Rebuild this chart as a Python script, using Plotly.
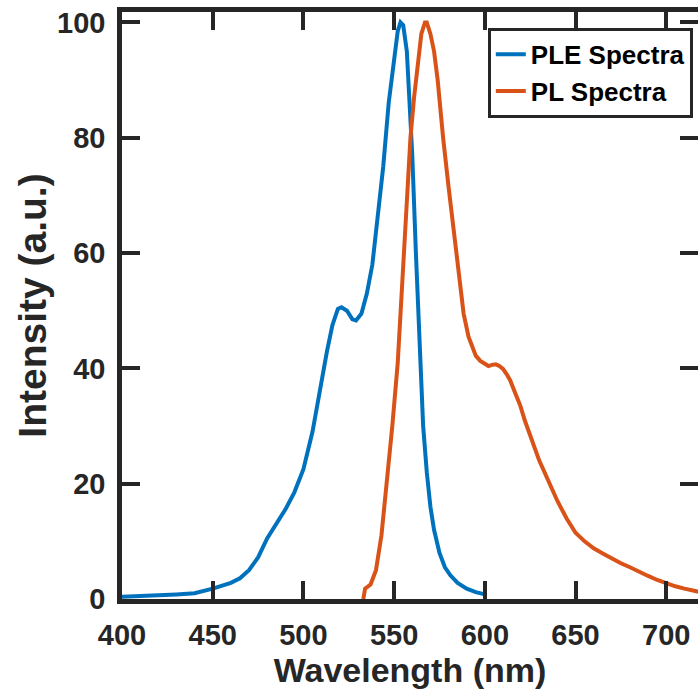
import plotly.graph_objects as go

ple_nm = [400, 410, 420, 430, 440, 450, 460, 465, 470, 475, 480, 485, 490, 495, 500,
          505, 510, 513, 516, 519, 521, 524, 527, 529, 532, 535, 538, 541, 544, 547,
          550, 552, 553.5, 555, 557, 559, 560, 562, 564, 566, 568, 570, 572, 575, 578,
          581, 585, 590, 595, 598.5, 600]
ple_val = [0.4, 0.5, 0.65, 0.8, 1.0, 1.8, 2.8, 3.6, 5.0, 7.2, 10.5, 13.0, 15.5, 18.5, 22.5,
           29.0, 38.0, 43.0, 47.5, 50.3, 50.6, 50.0, 48.5, 48.3, 49.5, 53.0, 58.0, 66.0, 75.0, 86.0,
           94.0, 98.5, 100.0, 99.5, 95.0, 84.0, 77.0, 60.0, 43.0, 30.0, 22.0, 16.0, 12.0, 8.0, 5.5,
           4.1, 2.8, 1.8, 1.2, 0.95, 0.8]

pl_nm = [533, 534, 537, 540, 543, 546, 549, 552, 555, 557, 559, 561, 563, 565, 567, 568,
         570, 572, 574, 575, 577, 580, 583, 586, 588.3, 591, 593, 595, 597.5, 600, 602, 604,
         606, 608, 610, 612, 614, 617, 619.6, 622, 625, 630, 635, 640, 645, 650, 655, 660,
         665, 670, 675, 680, 685, 690, 695, 700, 705, 710, 715, 720]
pl_val = [0.0, 1.8, 2.5, 5.0, 11.0, 20.0, 30.0, 41.0, 58.0, 70.0, 80.0, 87.0, 93.0, 98.0, 100.0, 100.0,
          98.0, 95.0, 90.0, 86.6, 80.0, 71.5, 63.0, 55.0, 49.5, 45.5, 43.6, 42.2, 41.3, 40.7, 40.4, 40.6,
          40.7, 40.4, 39.9, 39.0, 37.9, 35.5, 33.5, 31.0, 28.3, 24.0, 20.5, 17.0, 14.0, 11.5, 10.0, 8.8,
          7.9, 7.0, 6.2, 5.5, 4.7, 4.0, 3.3, 2.7, 2.2, 1.8, 1.4, 1.1]

x_ticks = [400, 450, 500, 550, 600, 650, 700]
y_ticks = [0, 20, 40, 60, 80, 100]

AX = "#262626"
FONT = "Liberation Sans"

fig = go.Figure()
fig.add_trace(go.Scatter(x=ple_nm, y=ple_val, mode="lines", name="PLE Spectra",
                         line=dict(color="#0072BD", width=4)))
fig.add_trace(go.Scatter(x=pl_nm, y=pl_val, mode="lines", name="PL Spectra",
                         line=dict(color="#D95319", width=4)))
fig.add_trace(go.Scatter(x=[], y=[], yaxis="y2", showlegend=False, hoverinfo="skip"))

fig.update_layout(
    width=698, height=690,
    margin=dict(l=122, r=0, t=12, b=91),
    paper_bgcolor="white", plot_bgcolor="white",
    font=dict(family=FONT, weight="bold", color=AX, size=26),
    showlegend=True,
    legend=dict(x=0.991, y=0.973, xanchor="right", yanchor="top",
                bgcolor="white", bordercolor=AX, borderwidth=3,
                font=dict(family=FONT, weight="bold", size=26, color="black"),
                tracegroupgap=0),
    xaxis=dict(range=[400, 717.5], tickvals=x_ticks, ticktext=[str(v) for v in x_ticks],
               ticks="inside", ticklen=18, tickwidth=3.5, tickcolor=AX,
               showline=True, linewidth=4.5, linecolor=AX, mirror="ticks",
               showgrid=False, zeroline=False, ticklabelstandoff=6,
               tickfont=dict(family=FONT, weight="bold", size=29, color=AX),
               title=dict(text="Wavelength (nm)", standoff=8,
                          font=dict(family=FONT, weight="bold", size=34, color=AX))),
    yaxis=dict(range=[0, 101.8], tickvals=y_ticks, ticktext=[str(v) for v in y_ticks],
               ticks="inside", ticklen=18, tickwidth=3.5, tickcolor=AX,
               showline=True, linewidth=4.5, linecolor=AX, mirror=False,
               showgrid=False, zeroline=False, ticklabelstandoff=6,
               tickfont=dict(family=FONT, weight="bold", size=29, color=AX),
               title=dict(text="Intensity (a.u.)", standoff=0,
                          font=dict(family=FONT, weight="bold", size=39, color=AX))),
    yaxis2=dict(range=[0, 101.8], overlaying="y", side="right", tickvals=y_ticks,
                ticks="inside", ticklen=18, tickwidth=3.5, tickcolor=AX,
                showticklabels=False, showline=False, showgrid=False, zeroline=False),
)

fig.write_html("out.html", config={"displayModeBar": False},
               post_script="document.body.style.margin='0px';document.body.style.overflow='hidden';")
